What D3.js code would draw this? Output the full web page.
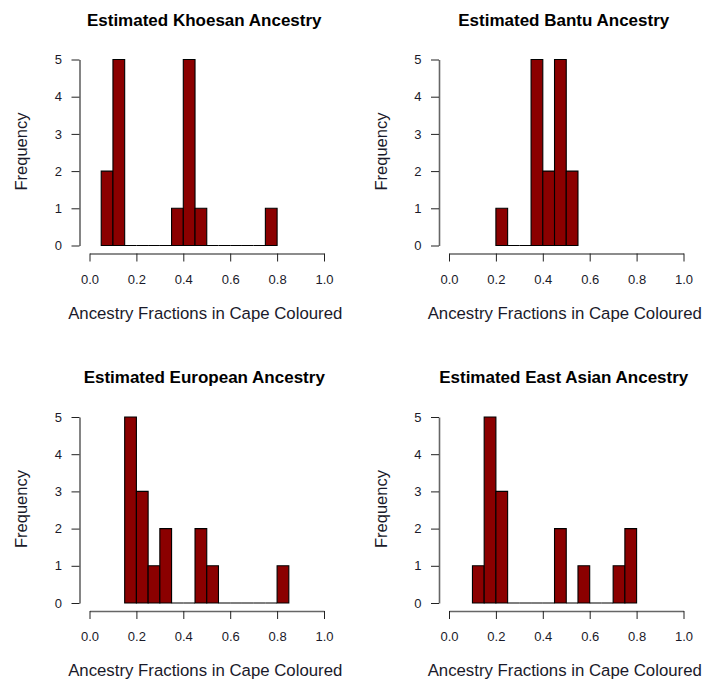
<!DOCTYPE html>
<html>
<head>
<meta charset="utf-8">
<script src="https://cdn.jsdelivr.net/npm/d3@7"></script>
<style>
  html, body { margin: 0; padding: 0; background: #fff; }
  svg { display: block; }
  text { font-family: "Liberation Sans", Arial, sans-serif; fill: #1a1a2a; }
</style>
</head>
<body>
<svg id="chart" width="703" height="682"></svg>
<script>
// ---- Data (histogram breaks and counts) ----
const titles = [
  "Estimated Khoesan Ancestry",
  "Estimated Bantu Ancestry",
  "Estimated European Ancestry",
  "Estimated East Asian Ancestry"
];
const khoesanBreaks = [0.05,0.10,0.15,0.20,0.25,0.30,0.35,0.40,0.45,0.50,0.55,0.60,0.65,0.70,0.75,0.80];
const khoesanCounts = [2,5,0,0,0,0,1,5,1,0,0,0,0,0,1];
const bantuBreaks = [0.20,0.25,0.30,0.35,0.40,0.45,0.50,0.55];
const bantuCounts = [1,0,0,5,2,5,2];
const europeanBreaks = [0.15,0.20,0.25,0.30,0.35,0.40,0.45,0.50,0.55,0.60,0.65,0.70,0.75,0.80,0.85];
const europeanCounts = [5,3,1,2,0,0,2,1,0,0,0,0,0,1];
const eastAsianBreaks = [0.10,0.15,0.20,0.25,0.30,0.35,0.40,0.45,0.50,0.55,0.60,0.65,0.70,0.75,0.80];
const eastAsianCounts = [1,5,3,0,0,0,0,2,0,1,0,0,1,2];
const xTicks = [0, 0.2, 0.4, 0.6, 0.8, 1.0];
const yTicks = [0, 1, 2, 3, 4, 5];
const xLabel = "Ancestry Fractions in Cape Coloured";
const yLabel = "Frequency";

const panels = [
  {title: titles[0], breaks: khoesanBreaks, counts: khoesanCounts},
  {title: titles[1], breaks: bantuBreaks, counts: bantuCounts},
  {title: titles[2], breaks: europeanBreaks, counts: europeanCounts},
  {title: titles[3], breaks: eastAsianBreaks, counts: eastAsianCounts}
];

// ---- Layout ----
const svg = d3.select("#chart");
const dx = 359.5, dy = 357.5;
const x = d3.scaleLinear().domain([0, 1]).range([89.5, 324]);
const y = d3.scaleLinear().domain([0, 5]).range([245.5, 59.5]);
const yAxisX = 79.5, xAxisY = 253.5;
const barFill = "#8B0000";

panels.forEach((p, i) => {
  const g = svg.append("g")
    .attr("transform", `translate(${(i % 2) * dx},${Math.floor(i / 2) * dy})`);

  // title
  g.append("text")
    .attr("x", (x(0) + x(1)) / 2 - 2.5)
    .attr("y", 25.5)
    .attr("text-anchor", "middle")
    .style("font-weight", "bold")
    .style("font-size", "17px")
    .style("fill", "#000")
    .text(p.title);

  // bars (zero-count bins draw as a flat line on the baseline)
  const bins = p.counts.map((c, k) => ({x0: p.breaks[k], x1: p.breaks[k + 1], c}));
  g.append("g").selectAll("path")
    .data(bins)
    .join("path")
    .attr("d", b => `M${x(b.x0)},${y(0)}V${y(b.c)}H${x(b.x1)}V${y(0)}Z`)
    .attr("fill", barFill)
    .attr("stroke", "#000")
    .attr("stroke-width", 1.1);

  // y axis
  const ya = g.append("g")
    .attr("transform", `translate(${yAxisX},0)`)
    .call(d3.axisLeft(y).tickValues(yTicks).tickFormat(d3.format("d"))
      .tickSize(8).tickSizeOuter(0).tickPadding(9.5));
  ya.select(".domain").attr("stroke", "#666").attr("stroke-width", 1.6);
  ya.selectAll(".tick line").attr("stroke", "#222");
  ya.selectAll(".tick text")
    .style("font-size", "13px")
    .attr("fill", "#1a1a2a")
    .attr("font-family", "Liberation Sans, Arial, sans-serif");

  // x axis
  const xa = g.append("g")
    .attr("transform", `translate(0,${xAxisY})`)
    .call(d3.axisBottom(x).tickValues(xTicks).tickFormat(d3.format(".1f"))
      .tickSize(8).tickSizeOuter(0).tickPadding(13));
  xa.select(".domain").attr("stroke", "#666").attr("stroke-width", 1.6);
  xa.selectAll(".tick line").attr("stroke", "#222");
  xa.selectAll(".tick text")
    .style("font-size", "13px")
    .attr("fill", "#1a1a2a")
    .attr("font-family", "Liberation Sans, Arial, sans-serif");

  // axis labels
  g.append("text")
    .attr("x", (x(0) + x(1)) / 2 - 1.5)
    .attr("y", 318.5)
    .attr("text-anchor", "middle")
    .style("font-size", "16.8px")
    .text(xLabel);

  g.append("text")
    .attr("transform", `translate(27,${(y(0) + y(5)) / 2 - 1}) rotate(-90)`)
    .attr("text-anchor", "middle")
    .style("font-size", "16.5px")
    .text(yLabel);
});
</script>
</body>
</html>
